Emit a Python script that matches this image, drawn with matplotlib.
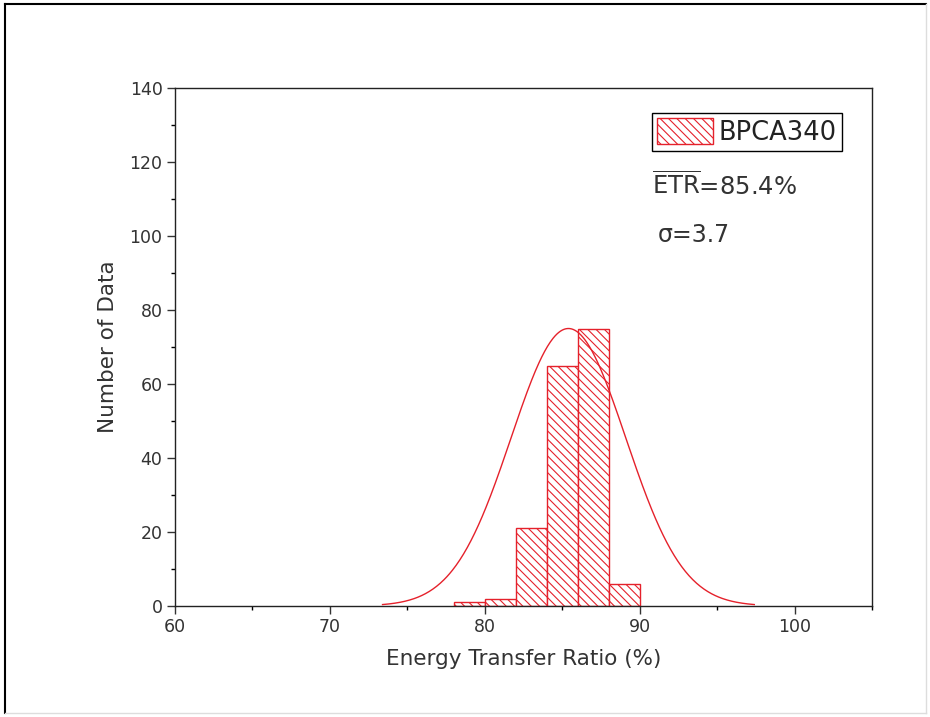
import numpy as np
import matplotlib
matplotlib.use("Agg")
import matplotlib.pyplot as plt
from matplotlib.ticker import MultipleLocator
from matplotlib.lines import Line2D

plt.rcParams['font.family'] = ['DejaVu Sans']
plt.rcParams['mathtext.fontset'] = 'dejavusans'
plt.rcParams['hatch.linewidth'] = 0.8

# Histogram data
bin_left = [78, 80, 82, 84, 86, 88]
bin_width = 2
counts = [1, 2, 21, 65, 75, 6]

# Gaussian fit parameters (as labelled on the chart)
fit_mean = 85.4
fit_sigma = 3.7
fit_amp = 75
fit_range = (73.4, 97.4)

x_ticks = [60, 70, 80, 90, 100]
y_ticks = [0, 20, 40, 60, 80, 100, 120, 140]

fig = plt.figure(figsize=(9.30, 7.17), dpi=100)
ax = fig.add_axes([175/930, 1-606/717, (872-175)/930, (606-88)/717])

red = '#e5212b'
ax.bar(bin_left, counts, width=bin_width, align='edge', facecolor='white',
       edgecolor=red, hatch='\\\\\\\\', linewidth=1.0, label='BPCA340', zorder=2)

xs = np.linspace(fit_range[0], fit_range[1], 400)
ys = fit_amp * np.exp(-0.5 * ((xs - fit_mean) / fit_sigma) ** 2)
ax.plot(xs, ys, color=red, linewidth=1.0, zorder=3)

ax.set_xlim(60, 105)
ax.set_ylim(0, 140)
ax.set_xticks(x_ticks)
ax.set_yticks(y_ticks)
ax.xaxis.set_minor_locator(MultipleLocator(5))
ax.yaxis.set_minor_locator(MultipleLocator(10))
ax.tick_params(which='major', direction='out', length=6, width=1, labelsize=12.5, colors='#333333', pad=3)
ax.tick_params(which='minor', direction='out', length=3, width=1)
for s in ax.spines.values():
    s.set_linewidth(1.0)
    s.set_color('#222222')

ax.set_xlabel('Energy Transfer Ratio (%)', fontsize=15.5, color='#333333', labelpad=9)
ax.set_ylabel('Number of Data', fontsize=15.5, color='#333333', labelpad=8)

leg = ax.legend(loc='upper left', bbox_to_anchor=(0.684, 0.952), fontsize=18.5,
                frameon=True, fancybox=False, edgecolor='black', framealpha=1,
                handlelength=2.2, handleheight=1.2, borderpad=0.2, handletextpad=0.2,
                borderaxespad=0)
leg.get_frame().set_linewidth(1.0)
for t in leg.get_texts():
    t.set_color('#222222')

ax.text(0.684, 0.793, r'$\overline{\mathrm{ETR}}$=85.4%', transform=ax.transAxes,
        fontsize=17.5, va='baseline', ha='left', color='#333333')
ax.text(0.692, 0.703, 'σ=3.7', transform=ax.transAxes,
        fontsize=17, va='baseline', ha='left', color='#333333')

# Outer frame
W, H = 930, 717
fig.add_artist(Line2D([5/W, 5/W], [1-4/H, 1-713/H], transform=fig.transFigure, color='black', lw=1.5))
fig.add_artist(Line2D([5/W, 926/W], [1-4/H, 1-4/H], transform=fig.transFigure, color='black', lw=1.5))
fig.add_artist(Line2D([5/W, 926/W], [1-713/H, 1-713/H], transform=fig.transFigure, color='#dddddd', lw=1))
fig.add_artist(Line2D([926/W, 926/W], [1-4/H, 1-713/H], transform=fig.transFigure, color='#dddddd', lw=1))

fig.savefig('out.png', dpi=100)
